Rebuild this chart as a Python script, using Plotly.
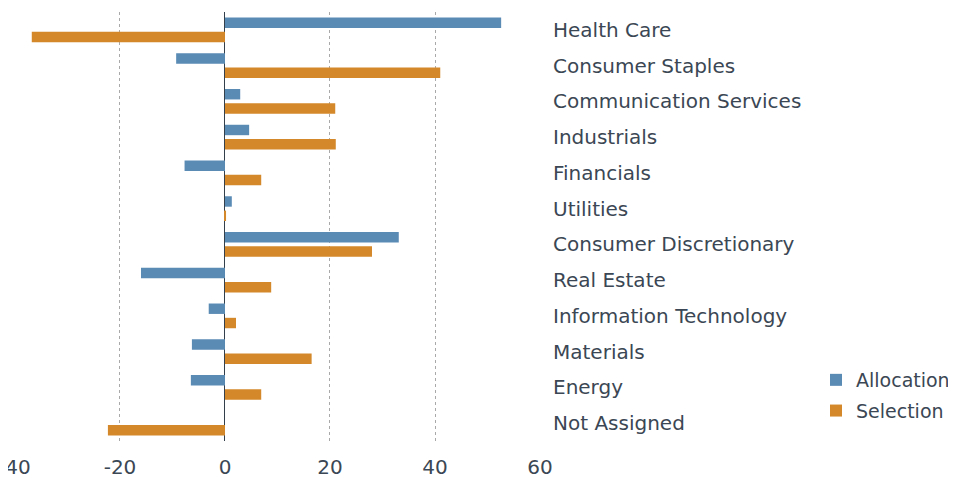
import plotly.graph_objects as go

sectors = [
    "Health Care",
    "Consumer Staples",
    "Communication Services",
    "Industrials",
    "Financials",
    "Utilities",
    "Consumer Discretionary",
    "Real Estate",
    "Information Technology",
    "Materials",
    "Energy",
    "Not Assigned",
]
allocation = [52.6, -9.3, 2.9, 4.6, -7.7, 1.3, 33.1, -16.0, -3.1, -6.3, -6.5, 0.0]
selection = [-36.8, 41.0, 21.0, 21.1, 6.9, 0.2, 28.0, 8.8, 2.1, 16.5, 6.9, -22.3]

x_ticks = [-20, 0, 20, 40, 60]
x_tick_labels = ["-20", "0", "20", "40", "60"]

text_color = "#3b4754"
font_family = "DejaVu Sans, Verdana, sans-serif"
font_size = 20

# the html page keeps its default 8px body margin, so the figure is
# drawn 8px smaller than the window to fit
W, H = 948, 470

fig = go.Figure()
fig.add_trace(go.Bar(
    name="Allocation", y=sectors, x=allocation, orientation="h",
    legendgroup="a",
    marker=dict(color="#5a8bb5", line=dict(width=0)),
))
fig.add_trace(go.Bar(
    name="Selection", y=sectors, x=selection, orientation="h",
    legendgroup="b",
    marker=dict(color="#d4882a", line=dict(width=0)),
))

fig.update_layout(
    width=W,
    height=H,
    margin=dict(l=0, r=416, t=4, b=37, autoexpand=False),
    barmode="group",
    bargap=0.2,
    bargroupgap=0.27,
    plot_bgcolor="white",
    paper_bgcolor="white",
    font=dict(family=font_family, size=font_size, color=text_color),
    legend=dict(
        xref="container", yref="container",
        x=808 / W, xanchor="left",
        y=1 - 353 / H, yanchor="top",
        font=dict(size=19, color=text_color),
        traceorder="grouped",
        tracegroupgap=3,
        bgcolor="rgba(0,0,0,0)",
    ),
    # the -40 label sits at the very edge, without a gridline
    annotations=[dict(
        x=-40, xref="x", y=0, yref="paper",
        yanchor="top", yshift=-12, text="-40", showarrow=False,
        font=dict(size=font_size, color=text_color),
    )],
)

fig.update_xaxes(
    range=[-41.33, 60],
    tickvals=x_ticks,
    ticktext=x_tick_labels,
    showgrid=True,
    gridcolor="#a9a9a9",
    griddash="dot",
    gridwidth=1,
    zeroline=True,
    zerolinecolor="#333f4b",
    zerolinewidth=1,
    showline=False,
    ticks="",
    automargin=False,
    ticklabelstandoff=12,
    tickfont=dict(size=font_size, color=text_color),
)
fig.update_yaxes(
    categoryorder="array",
    categoryarray=sectors,
    autorange="reversed",
    side="right",
    showgrid=False,
    showline=False,
    ticks="",
    automargin=False,
    ticklabelstandoff=12,
    tickfont=dict(size=font_size, color=text_color),
)

fig.write_html("out.html")
